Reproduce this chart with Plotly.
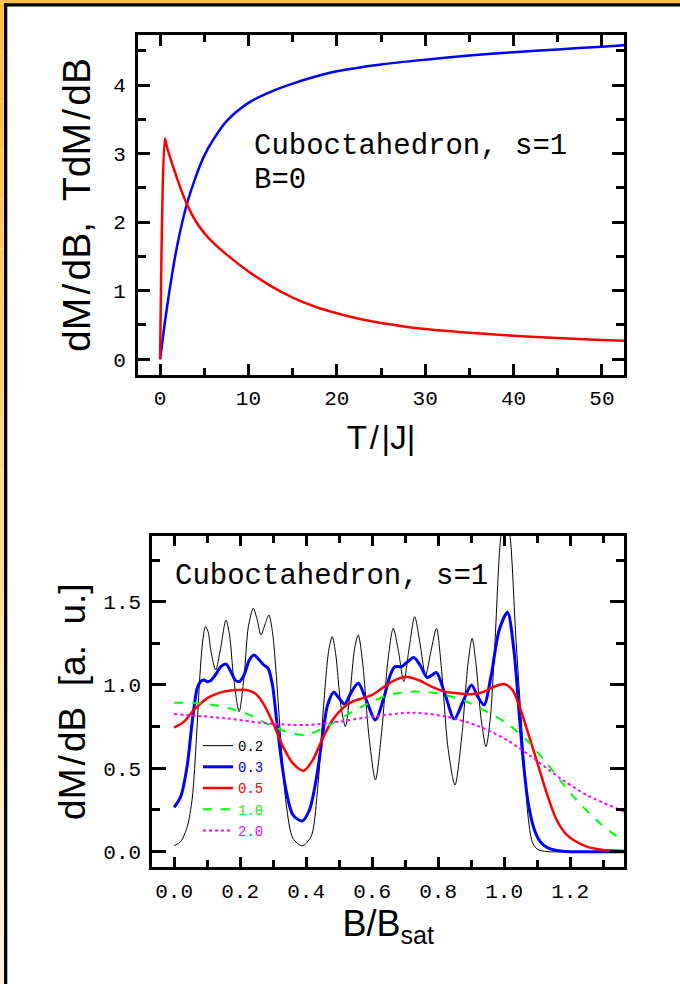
import plotly.graph_objects as go

W, H = 680, 984

# ---------------- top panel data ----------------
T_chi = [0.0, 0.55, 0.75, 1.0, 1.5, 2.0, 2.5, 3.0, 4.0, 5.0, 6.0, 7.5, 10, 12.5, 15,
         17.5, 20, 22.5, 25, 30, 35, 40, 45, 50, 52.5]
chi = [0.0, 3.22, 3.11, 3.0, 2.80, 2.61, 2.43, 2.27, 2.02, 1.84, 1.70, 1.53, 1.28, 1.07, 0.90,
       0.77, 0.67, 0.59, 0.53, 0.44, 0.385, 0.343, 0.31, 0.28, 0.268]

T_tchi = [0.0, 0.5, 1, 1.5, 2, 3, 4, 5, 6, 7.5, 10, 12.5, 15, 17.5, 20, 25, 30, 35, 40,
          45, 50, 52.5]
tchi = [0.0, 0.5, 0.95, 1.35, 1.7, 2.25, 2.65, 2.97, 3.2, 3.47, 3.74, 3.9, 4.02, 4.12, 4.2,
        4.3, 4.37, 4.43, 4.48, 4.52, 4.56, 4.58]

# ---------------- bottom panel data ----------------
b_02 = [0.0, 0.02, 0.04, 0.055, 0.068, 0.078, 0.087, 0.095, 0.103, 0.112, 0.126, 0.141, 0.157,
        0.168, 0.18, 0.197, 0.212, 0.225, 0.24, 0.252, 0.263, 0.275, 0.287, 0.298, 0.31, 0.325,
        0.34, 0.36, 0.388, 0.415, 0.435, 0.452, 0.468, 0.479, 0.49, 0.505, 0.519, 0.533, 0.547,
        0.558, 0.572, 0.59, 0.61, 0.628, 0.648, 0.664, 0.68, 0.696, 0.712, 0.729, 0.745, 0.762,
        0.778, 0.795, 0.81, 0.83, 0.851, 0.872, 0.89, 0.903, 0.915, 0.93, 0.945, 0.958, 0.972,
        0.988, 1.005, 1.02, 1.035, 1.048, 1.06, 1.072, 1.085, 1.1, 1.13, 1.2, 1.364]
m_02 = [0.035, 0.06, 0.15, 0.32, 0.69, 1.05, 1.27, 1.35, 1.32, 1.2, 1.09, 1.22, 1.39,
        1.3, 1.05, 0.84, 1.05, 1.35, 1.46, 1.39, 1.30, 1.36, 1.42, 1.32, 1.05, 0.62,
        0.28, 0.08, 0.035, 0.09, 0.38, 0.85, 1.2, 1.29, 1.18, 0.88, 0.75, 0.95, 1.22,
        1.30, 1.12, 0.7, 0.43, 0.7, 1.15, 1.34, 1.2, 1.02, 1.22, 1.41, 1.25, 1.06,
        1.2, 1.34, 1.1, 0.62, 0.40, 0.7, 1.12, 1.28, 1.12, 0.8, 0.63, 0.8, 1.25,
        1.85, 2.1, 1.85, 1.3, 0.9, 0.55, 0.22, 0.06, 0.015, 0.0, 0.0, 0.0]

b_03 = [0.0, 0.02, 0.04, 0.055, 0.07, 0.08, 0.09, 0.1, 0.11, 0.125, 0.142, 0.157, 0.172, 0.185,
        0.197, 0.212, 0.228, 0.242, 0.258, 0.272, 0.285, 0.298, 0.31, 0.325, 0.34, 0.36, 0.388,
        0.41, 0.432, 0.45, 0.465, 0.484, 0.5, 0.517, 0.535, 0.558, 0.58, 0.61, 0.635, 0.655,
        0.669, 0.689, 0.708, 0.726, 0.745, 0.767, 0.782, 0.795, 0.82, 0.849, 0.875, 0.901, 0.92,
        0.939, 0.96, 0.985, 1.01, 1.03, 1.047, 1.06, 1.073, 1.09, 1.109, 1.13, 1.159, 1.2, 1.364]
m_03 = [0.266, 0.33, 0.52, 0.78, 0.98, 1.02, 1.03, 1.02, 1.025, 1.06, 1.11, 1.125, 1.08, 1.03,
        1.02, 1.06, 1.15, 1.18, 1.15, 1.12, 1.1, 1.0, 0.8, 0.55, 0.36, 0.22, 0.184,
        0.25, 0.45, 0.7, 0.88, 0.956, 0.92, 0.885, 0.95, 1.01, 0.92, 0.79, 0.92, 1.06,
        1.11, 1.11, 1.14, 1.165, 1.12, 1.045, 1.06, 1.075, 0.95, 0.796, 0.9, 1.0, 0.93,
        0.88, 1.05, 1.33, 1.436, 1.2, 0.79, 0.5, 0.29, 0.14, 0.06, 0.025, 0.007, 0.0, 0.0]

b_05 = [0.0, 0.03, 0.06, 0.1, 0.15, 0.19, 0.22, 0.245, 0.27, 0.3, 0.33, 0.36, 0.393, 0.42, 0.45,
        0.48, 0.51, 0.54, 0.57, 0.6, 0.63, 0.66, 0.7, 0.74, 0.78, 0.82, 0.86, 0.9, 0.94, 0.97,
        1.0, 1.025, 1.045, 1.068, 1.098, 1.129, 1.159, 1.19, 1.21, 1.25, 1.3, 1.364]
m_05 = [0.744, 0.78, 0.85, 0.92, 0.96, 0.97, 0.97, 0.95, 0.89, 0.77, 0.63, 0.53, 0.486, 0.55, 0.68,
        0.79, 0.86, 0.90, 0.92, 0.94, 0.98, 1.02, 1.05, 1.03, 0.99, 0.96, 0.95, 0.945, 0.96, 0.99,
        1.006, 0.97, 0.88, 0.74, 0.55, 0.35, 0.19, 0.1, 0.07, 0.03, 0.01, 0.004]

b_10 = [0.0, 0.08, 0.157, 0.218, 0.278, 0.34, 0.4, 0.44, 0.49, 0.54, 0.6, 0.65, 0.72, 0.8,
        0.886, 0.947, 1.008, 1.068, 1.129, 1.21, 1.29, 1.364]
m_10 = [0.894, 0.89, 0.865, 0.83, 0.77, 0.72, 0.70, 0.73, 0.78, 0.84, 0.9, 0.94, 0.96, 0.95,
        0.90, 0.84, 0.77, 0.67, 0.53, 0.33, 0.17, 0.06]

b_20 = [0.0, 0.157, 0.278, 0.4, 0.5, 0.6, 0.724, 0.825, 0.926, 1.008, 1.089, 1.17, 1.25, 1.364]
m_20 = [0.826, 0.80, 0.77, 0.76, 0.78, 0.81, 0.834, 0.81, 0.75, 0.67, 0.56, 0.44, 0.34, 0.24]

temps = ["0.2", "0.3", "0.5", "1.0", "2.0"]
colors = ["#000000", "#0000ff", "#ff0000", "#00ff00", "#ff00ff"]
widths = [1, 3, 2.5, 2, 2]
dashes = ["solid", "solid", "solid", "dash", "dot"]
bx = [b_02, b_03, b_05, b_10, b_20]
my = [m_02, m_03, m_05, m_10, m_20]

fig = go.Figure()
fig.add_trace(go.Scatter(x=T_tchi, y=tchi, mode="lines", line=dict(color="#0000ff", width=2.5, shape="spline", smoothing=0.8),
                         xaxis="x", yaxis="y", showlegend=False))
fig.add_trace(go.Scatter(x=T_chi, y=chi, mode="lines", line=dict(color="#ff0000", width=2.5, shape="spline", smoothing=0.8),
                         xaxis="x", yaxis="y", showlegend=False))

for t, c, w, d, xs, ys in zip(temps, colors, widths, dashes, bx, my):
    fig.add_trace(go.Scatter(x=xs, y=ys, mode="lines",
                             line=dict(color=c, width=w, dash=d, shape="spline", smoothing=0.8),
                             name=f'<span style="color:{c}">{t}</span>',
                             xaxis="x2", yaxis="y2", showlegend=True))

MONO = "Liberation Mono"
SANS = "Liberation Sans"
tickfont = dict(family=MONO, size=21, color="black")
common = dict(showline=True, linecolor="black", linewidth=3, mirror="allticks", ticks="inside",
              tickcolor="black", tickwidth=2.5, showgrid=False, zeroline=False, tickfont=tickfont)

fig.update_layout(
    width=W, height=H, margin=dict(l=0, r=0, t=0, b=0),
    paper_bgcolor="white", plot_bgcolor="white",
    xaxis=dict(domain=[138 / W, 624 / W], range=[-2.5, 52.5], tick0=0, dtick=10, ticklen=11,
               minor=dict(dtick=5, ticklen=7, tickwidth=2.5, tickcolor="black", ticks="inside"),
               anchor="y", ticklabelstandoff=2,
               title=dict(text="T&#8202;/&#8202;|J|", font=dict(family=SANS, size=33, color="black"), standoff=16),
               **common),
    yaxis=dict(domain=[1 - 375 / H, 1 - 35 / H], range=[-0.23, 4.73], tick0=0, dtick=1, ticklen=12,
               minor=dict(dtick=0.5, ticklen=8, tickwidth=2.5, tickcolor="black", ticks="inside"),
               anchor="x", ticklabelstandoff=5,
               title=dict(text="dM&#8202;/&#8202;dB,&nbsp; TdM&#8202;/&#8202;dB", font=dict(family=SANS, size=39, color="black"), standoff=11),
               **common),
    xaxis2=dict(domain=[152.3 / W, 624.3 / W], range=[-0.066, 1.364], tick0=0, dtick=0.2, tickformat=".1f", ticklen=10,
                minor=dict(dtick=0.1, ticklen=7, tickwidth=2.5, tickcolor="black", ticks="inside"),
                anchor="y2", ticklabelstandoff=2,
                title=dict(text="B/B<sub>sat</sub>", font=dict(family=SANS, size=36, color="black"), standoff=8),
                **common),
    yaxis2=dict(domain=[1 - 867.3 / H, 1 - 536 / H], range=[-0.094, 1.894], tick0=0, dtick=0.5, tickformat=".1f", ticklen=14,
                minor=dict(dtick=0.25, ticklen=8, tickwidth=2.5, tickcolor="black", ticks="inside"),
                anchor="x2", ticklabelstandoff=4,
                title=dict(text="dM&#8202;/&#8202;dB&nbsp; [a.&nbsp; u.]", font=dict(family=SANS, size=37, color="black"), standoff=7),
                **common),
    legend=dict(x=198 / W, y=1 - 730 / H, xanchor="left", yanchor="top", bgcolor="rgba(0,0,0,0)",
                font=dict(family=MONO, size=14), tracegroupgap=0, itemwidth=30),
    annotations=[
        dict(text="Cuboctahedron, s=1", x=252 / W, y=1 - 128 / H, xref="paper", yref="paper",
             xanchor="left", yanchor="top", align="left", showarrow=False,
             font=dict(family=MONO, size=29, color="black")),
        dict(text="B=0", x=252 / W, y=1 - 162 / H, xref="paper", yref="paper",
             xanchor="left", yanchor="top", align="left", showarrow=False,
             font=dict(family=MONO, size=29, color="black")),
        dict(text="Cuboctahedron, s=1", x=173 / W, y=1 - 576 / H, xref="paper", yref="paper",
             xanchor="left", yanchor="middle", align="left", showarrow=False,
             font=dict(family=MONO, size=29, color="black")),
    ],
)

# page frame: orange strip on top, gradient strip on the left, dark inner border
shapes = []
shapes.append(dict(type="rect", xref="paper", yref="paper", x0=0, x1=1, y0=1 - 3.5 / H, y1=1,
                   fillcolor="#ffbf3f", line=dict(width=0), layer="above"))
n = 40
c0 = (255, 191, 63)
c1 = (255, 244, 222)
for i in range(n):
    f = i / (n - 1)
    col = tuple(round(a + (b - a) * f) for a, b in zip(c0, c1))
    y_top = 3.5 + (H - 3.5) * i / n
    y_bot = 3.5 + (H - 3.5) * (i + 1) / n
    shapes.append(dict(type="rect", xref="paper", yref="paper", x0=0, x1=4.2 / W,
                       y0=1 - y_bot / H, y1=1 - y_top / H,
                       fillcolor="rgb(%d,%d,%d)" % col, line=dict(width=0), layer="above"))
shapes.append(dict(type="rect", xref="paper", yref="paper", x0=4 / W, x1=1, y0=1 - 6.5 / H, y1=1 - 3.3 / H,
                   fillcolor="#000000", line=dict(width=0), layer="above"))
shapes.append(dict(type="rect", xref="paper", yref="paper", x0=4 / W, x1=7.3 / W, y0=0, y1=1 - 3.3 / H,
                   fillcolor="#000000", line=dict(width=0), layer="above"))
fig.update_layout(shapes=shapes)

fig.write_html("out.html", config={"displayModeBar": False},
               post_script="document.body.style.margin='0';document.body.style.overflow='hidden';")
